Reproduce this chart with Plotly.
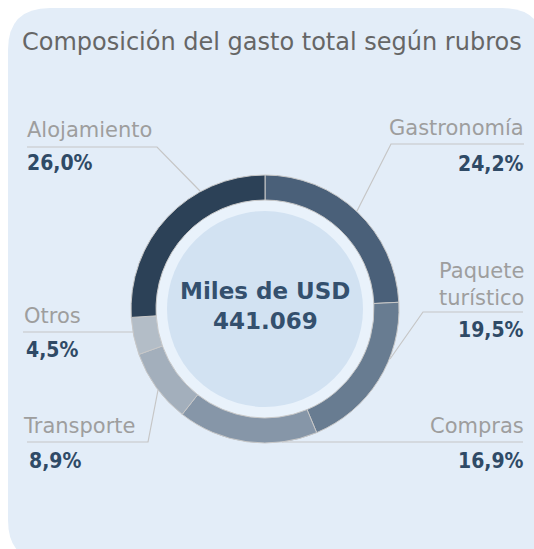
import plotly.graph_objects as go

W, H = 534, 549

categories = ["Gastronomía", "Paquete turístico", "Compras", "Transporte", "Otros", "Alojamiento"]
shares = [24.2, 19.5, 16.9, 8.9, 4.5, 26.0]
pct_labels = ["24,2%", "19,5%", "16,9%", "8,9%", "4,5%", "26,0%"]
slice_colors = ["#4a6079", "#687c91", "#8696a8", "#a3afbc", "#b3bdc7", "#2c4157"]
center_lines = ["Miles de USD", "441.069"]
title_text = "Composición del gasto total según rubros"

OFF = 0  # body margin removed below, so figure pixels equal window pixels

def px(x):
    return (x - OFF) / W

def py(y):
    return 1 - (y - OFF) / H

cx, cy, R = 265, 309, 134

fig = go.Figure()
fig.add_trace(go.Pie(
    labels=categories, values=shares, sort=False, direction="clockwise", rotation=0,
    hole=109 / 134, textinfo="none", hoverinfo="label+percent",
    marker=dict(colors=slice_colors, line=dict(color="#c8c8c8", width=1)),
    domain=dict(x=[px(cx - R), px(cx + R)], y=[py(cy + R), py(cy - R)]),
    showlegend=False,
))

shapes = []
x0, y0, x1, y1, r = 8, 8, 544, 562, 42
path = (f"M {px(x0+r)},{py(y0)} L {px(x1-r)},{py(y0)} Q {px(x1)},{py(y0)} {px(x1)},{py(y0+r)} "
        f"L {px(x1)},{py(y1-r)} Q {px(x1)},{py(y1)} {px(x1-r)},{py(y1)} "
        f"L {px(x0+r)},{py(y1)} Q {px(x0)},{py(y1)} {px(x0)},{py(y1-r)} "
        f"L {px(x0)},{py(y0+r)} Q {px(x0)},{py(y0)} {px(x0+r)},{py(y0)} Z")
shapes.append(dict(type="path", path=path, xref="paper", yref="paper", fillcolor="#e3edf8",
                   line=dict(width=0), layer="below"))
for rr, col in [(109, "#e9f2fb"), (98, "#d2e2f2")]:
    shapes.append(dict(type="circle", xref="paper", yref="paper",
                       x0=px(cx - rr), x1=px(cx + rr), y0=py(cy + rr), y1=py(cy - rr),
                       fillcolor=col, line=dict(width=0), layer="below"))

leaders = [
    [(27, 147), (157, 147), (200, 191)],
    [(524, 144), (391, 144), (357, 211)],
    [(523, 312), (423, 312), (390, 359)],
    [(523, 442), (282, 442)],
    [(23, 332), (133, 332)],
    [(27, 442), (148, 442), (158, 390)],
]
for pts in leaders:
    d = "M " + " L ".join(f"{px(a)},{py(b)}" for a, b in pts)
    shapes.append(dict(type="path", path=d, xref="paper", yref="paper",
                       line=dict(color="#c6c6c6", width=1.2), layer="above"))

annotations = []
annotations.append(dict(text=title_text, x=px(272), y=py(42), xref="paper", yref="paper",
                        showarrow=False, xanchor="center", yanchor="middle",
                        font=dict(family="DejaVu Sans", size=24, color="#666666")))

label_font = dict(family="DejaVu Sans", size=21, color="#9e9e9e")
pct_font = dict(family="DejaVu Sans Condensed, Liberation Sans Narrow, Roboto Condensed, Roboto",
                size=21, color="#2f4a66", weight=700)

label_pos = [
    ("Gastronomía", 526, 128, "right"),
    ("Paquete<br>turístico", 526, 284, "right"),
    ("Compras", 526, 426, "right"),
    ("Transporte", 21, 426, "left"),
    ("Otros", 22, 316, "left"),
    ("Alojamiento", 25, 130, "left"),
]
pct_pos = [
    (526, 164, "right"),
    (526, 330, "right"),
    (526, 461, "right"),
    (27, 461, "left"),
    (24, 350, "left"),
    (25, 163, "left"),
]
for (t, x, y, a), (pxx, pyy, pa), pl in zip(label_pos, pct_pos, pct_labels):
    annotations.append(dict(text=t, x=px(x), y=py(y), xref="paper", yref="paper", showarrow=False,
                            xanchor=a, yanchor="middle", align=a, font=label_font))
    annotations.append(dict(text=pl, x=px(pxx), y=py(pyy), xref="paper", yref="paper", showarrow=False,
                            xanchor=pa, yanchor="middle", font=pct_font))

for i, t in enumerate(center_lines):
    annotations.append(dict(text=t, x=px(cx), y=py(291 + i * 30), xref="paper", yref="paper",
                            showarrow=False, xanchor="center", yanchor="middle",
                            font=dict(family="DejaVu Sans", size=23, color="#34506e", weight=700)))

fig.update_layout(width=W, height=H, margin=dict(l=0, r=0, t=0, b=0),
                  paper_bgcolor="white", plot_bgcolor="white",
                  shapes=shapes, annotations=annotations)
fig.write_html("out.html", config={"displayModeBar": False},
               post_script="document.documentElement.style.overflow='hidden';"
                           "document.body.style.overflow='hidden';"
                           "document.body.style.margin='0';")
